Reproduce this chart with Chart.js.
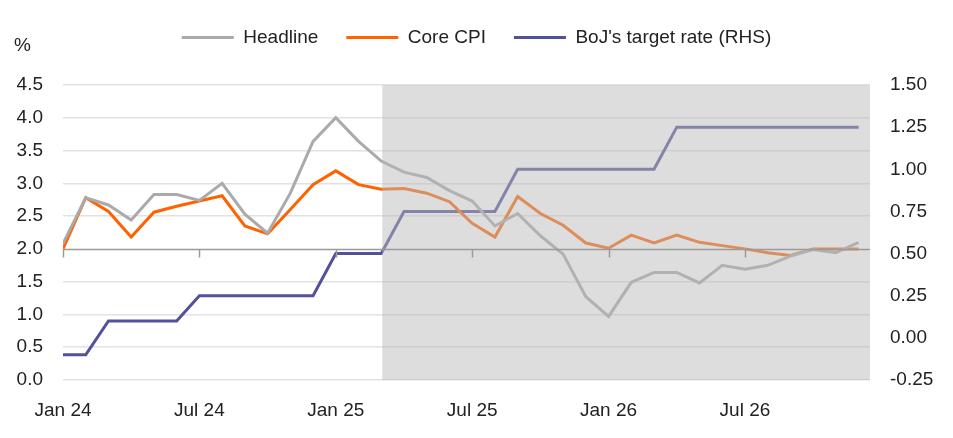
<!DOCTYPE html>
<html>
<head>
<meta charset="utf-8">
<script src="https://cdn.jsdelivr.net/npm/chart.js@4"></script>
<style>
  html, body { margin: 0; padding: 0; background: #fff; }
  #wrap { width: 953px; height: 438px; }
</style>
</head>
<body>
<div id="wrap"><canvas id="chart"></canvas></div>
<script>
// ===============================
// DATA
// ===============================
const months = [
  "Jan 24", "Feb 24", "Mar 24", "Apr 24", "May 24", "Jun 24",
  "Jul 24", "Aug 24", "Sep 24", "Oct 24", "Nov 24", "Dec 24",
  "Jan 25", "Feb 25", "Mar 25", "Apr 25", "May 25", "Jun 25",
  "Jul 25", "Aug 25", "Sep 25", "Oct 25", "Nov 25", "Dec 25",
  "Jan 26", "Feb 26", "Mar 26", "Apr 26", "May 26", "Jun 26",
  "Jul 26", "Aug 26", "Sep 26", "Oct 26", "Nov 26", "Dec 26"
];
const tickMonths = ["Jan 24", "Jul 24", "Jan 25", "Jul 25", "Jan 26", "Jul 26"];
const forecastFrom = "Mar 25";

const headline = [
  2.08, 2.78, 2.67, 2.44, 2.83, 2.83, 2.74, 3.00, 2.53, 2.24, 2.85, 3.64,
  4.00, 3.64, 3.34, 3.17, 3.09, 2.89, 2.73, 2.35, 2.54, 2.20, 1.92, 1.27,
  0.97, 1.49, 1.64, 1.64, 1.48, 1.75, 1.69, 1.75, 1.89, 1.99, 1.94, 2.10
];
const coreCpi = [
  2.00, 2.78, 2.57, 2.18, 2.56, 2.65, 2.73, 2.81, 2.35, 2.23, 2.60, 2.98,
  3.19, 2.98, 2.91, 2.92, 2.85, 2.72, 2.39, 2.18, 2.80, 2.54, 2.36, 2.09,
  2.01, 2.21, 2.09, 2.21, 2.10, 2.05, 2.00, 1.94, 1.90, 2.00, 2.00, 2.00
];
const bojRate = [
  -0.10, -0.10, 0.10, 0.10, 0.10, 0.10, 0.25, 0.25, 0.25, 0.25, 0.25, 0.25,
  0.50, 0.50, 0.50, 0.75, 0.75, 0.75, 0.75, 0.75, 1.00, 1.00, 1.00, 1.00,
  1.00, 1.00, 1.00, 1.25, 1.25, 1.25, 1.25, 1.25, 1.25, 1.25, 1.25, 1.25
];

const axisAt = 2.0; // x axis line crosses the left axis here

// ===============================
// STYLE
// ===============================
Chart.defaults.font.family = "'Liberation Sans', Arial, sans-serif";
Chart.defaults.font.size = 19;
Chart.defaults.color = "#222";

const toPoints = arr => arr.map((v, i) => ({ x: i, y: v }));

// shaded forecast box, axis line at 2.0 and the "%" label
const overlay = {
  id: "overlay",
  beforeInit(chart) {
    const fit = chart.legend.fit;
    chart.legend.fit = function () {
      fit.call(this);
      this.height = 85;
    };
  },
  afterDatasetsDraw(chart) {
    const { ctx, chartArea: a, scales } = chart;
    const x = scales.x, y = scales.y;
    const x0 = x.getPixelForValue(months.indexOf(forecastFrom)) + 1;
    ctx.save();
    ctx.fillStyle = "rgba(185,185,185,0.49)";
    ctx.fillRect(x0, a.top, a.right - x0, a.bottom - a.top);

    const yLine = Math.round(y.getPixelForValue(axisAt)) + 0.5;
    ctx.strokeStyle = "#9a9a9a";
    ctx.lineWidth = 1.5;
    ctx.beginPath();
    ctx.moveTo(a.left, yLine);
    ctx.lineTo(a.right, yLine);
    tickMonths.forEach(m => {
      const px = Math.round(x.getPixelForValue(months.indexOf(m))) + 0.5;
      ctx.moveTo(px, yLine);
      ctx.lineTo(px, yLine + 8);
    });
    ctx.stroke();

    ctx.fillStyle = "#222";
    ctx.font = "19px 'Liberation Sans', Arial, sans-serif";
    ctx.textAlign = "left";
    ctx.textBaseline = "middle";
    ctx.fillText("%", 14, 46);
    ctx.restore();
  }
};

// ===============================
// CHART
// ===============================
new Chart(document.getElementById("chart").getContext("2d"), {
  type: "line",
  data: {
    datasets: [
      {
        label: "Headline",
        data: toPoints(headline),
        borderColor: "#aaaaaa",
        backgroundColor: "#aaaaaa",
        borderWidth: 3,
        pointRadius: 0,
        tension: 0,
        yAxisID: "y"
      },
      {
        label: "Core CPI",
        data: toPoints(coreCpi),
        borderColor: "#ff6200",
        backgroundColor: "#ff6200",
        borderWidth: 3,
        pointRadius: 0,
        tension: 0,
        yAxisID: "y"
      },
      {
        label: "BoJ's target rate (RHS)",
        data: toPoints(bojRate),
        borderColor: "#52519a",
        backgroundColor: "#52519a",
        borderWidth: 3,
        pointRadius: 0,
        tension: 0,
        yAxisID: "y2"
      }
    ]
  },
  options: {
    responsive: true,
    maintainAspectRatio: false,
    animation: false,
    layout: { padding: 0 },
    plugins: {
      tooltip: { enabled: false },
      legend: {
        position: "top",
        labels: {
          boxWidth: 52,
          boxHeight: 3,
          padding: 28,
          color: "#222",
          generateLabels(chart) {
            return Chart.defaults.plugins.legend.labels.generateLabels(chart)
              .map(l => ({ ...l, lineWidth: 0, fillStyle: l.strokeStyle }));
          }
        }
      }
    },
    scales: {
      x: {
        type: "linear",
        min: 0,
        max: 35.5,
        grid: { display: false },
        border: { display: false },
        afterBuildTicks(scale) {
          scale.ticks = tickMonths.map(m => ({ value: months.indexOf(m) }));
        },
        afterFit(scale) { scale.height = 58; },
        ticks: {
          padding: 11,
          maxRotation: 0,
          callback: v => months[v]
        }
      },
      y: {
        position: "left",
        min: 0,
        max: 4.5,
        afterFit(scale) { scale.width = 63; },
        border: { display: false },
        grid: {
          drawTicks: false,
          lineWidth: 1.5,
          color: c => (c.tick && c.tick.value === axisAt ? "rgba(0,0,0,0)" : "#e2e2e2")
        },
        ticks: {
          stepSize: 0.5,
          padding: 20,
          callback: v => v.toFixed(1)
        }
      },
      y2: {
        position: "right",
        min: -0.25,
        max: 1.5,
        afterFit(scale) { scale.width = 83; },
        border: { display: false },
        grid: { display: false, drawTicks: false },
        ticks: {
          stepSize: 0.25,
          padding: 20,
          callback: v => v.toFixed(2)
        }
      }
    }
  },
  plugins: [overlay]
});
</script>
</body>
</html>
